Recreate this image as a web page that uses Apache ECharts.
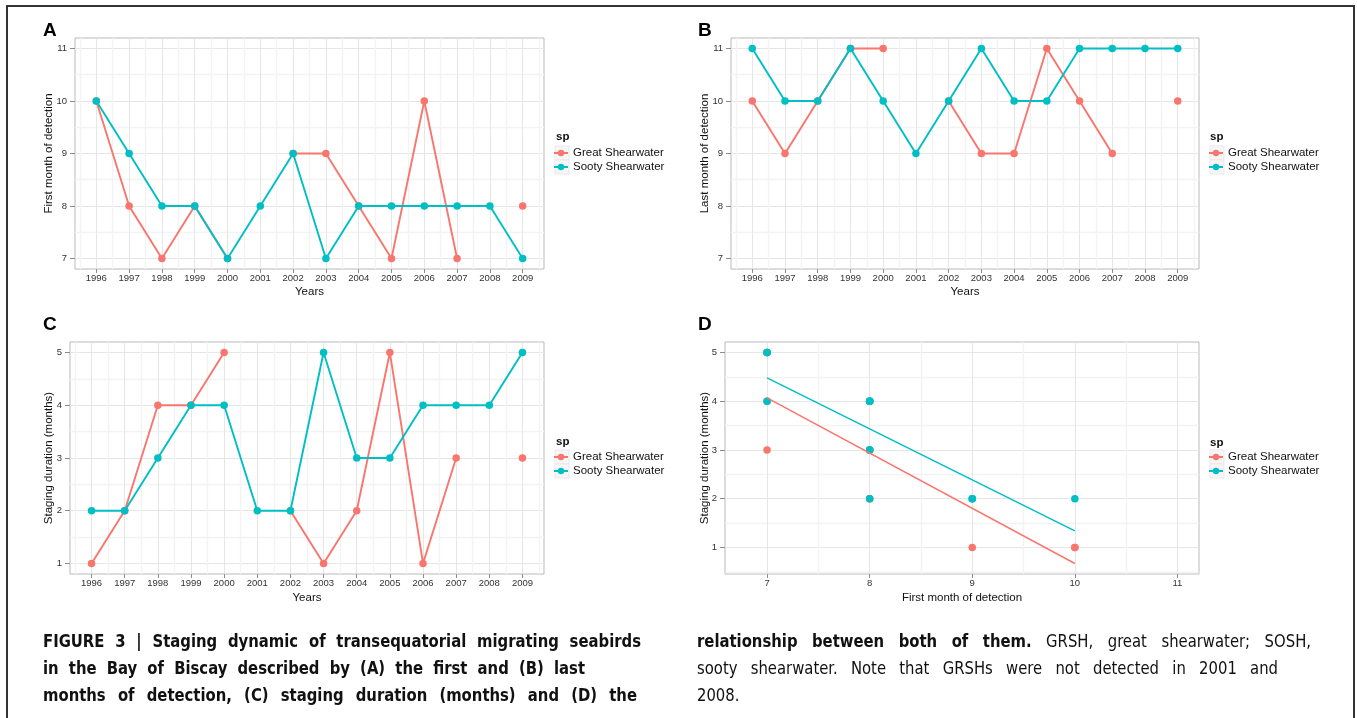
<!DOCTYPE html>
<html>
<head>
<meta charset="utf-8">
<script src="https://cdn.jsdelivr.net/npm/echarts@6/dist/echarts.min.js"></script>
<style>
html,body{margin:0;padding:0;background:#fff;}
#chart{width:1357px;height:718px;}
</style>
</head>
<body>
<div id="chart"></div>
<script>
// ---------------- DATA ----------------
const years = [1996,1997,1998,1999,2000,2001,2002,2003,2004,2005,2006,2007,2008,2009];
const yearTicks = [1996,1997,1998,1999,2000,2001,2002,2003,2004,2005,2006,2007,2008,2009];
const yearMinorTicks = [1995.5,1996.5,1997.5,1998.5,1999.5,2000.5,2001.5,2002.5,2003.5,2004.5,2005.5,2006.5,2007.5,2008.5,2009.5];
const monthTicks = [7,8,9,10,11];
const monthMinorTicks = [6.5,7.5,8.5,9.5,10.5,11.5];
const durationTicks = [1,2,3,4,5];
const durationMinorTicks = [0.5,1.5,2.5,3.5,4.5,5.5];
const seriesNames = ['Great Shearwater','Sooty Shearwater'];

// (A) first month of detection
const firstGRSH = [10,8,7,8,7,null,9,9,8,7,10,7,null,8];
const firstSOSH = [10,9,8,8,7,8,9,7,8,8,8,8,8,7];
// (B) last month of detection
const lastGRSH = [10,9,10,11,11,null,10,9,9,11,10,9,null,10];
const lastSOSH = [11,10,10,11,10,9,10,11,10,10,11,11,11,11];
// (C) staging duration (months)
const stayGRSH = [1,2,4,4,5,null,2,1,2,5,1,3,null,3];
const staySOSH = [2,2,3,4,4,2,2,5,3,3,4,4,4,5];
// (D) first month vs staging duration
const dGRSHx = [10,8,7,8,7,9,9,8,7,10,7,8];
const dGRSHy = [1,2,4,4,5,2,1,2,5,1,3,3];
const dSOSHx = [10,9,8,8,7,8,9,7,8,8,8,8,8,7];
const dSOSHy = [2,2,3,4,4,2,2,5,3,3,4,4,4,5];
// fitted regression lines (ends)
const fitX = [7,10];
const fitGRSH = [4.07,0.67];
const fitSOSH = [4.48,1.34];

// caption text
const captionLeft = [
  'FIGURE 3 | Staging dynamic of transequatorial migrating seabirds',
  'in the Bay of Biscay described by (A) the first and (B) last',
  'months of detection, (C) staging duration (months) and (D) the'
];
const captionRightBold = 'relationship between both of them.';
const captionRight = [
  'GRSH, great shearwater; SOSH,',
  'sooty shearwater. Note that GRSHs were not detected in 2001 and',
  '2008.'
];

// ---------------- STYLE / LAYOUT ----------------
const FF = '"Liberation Sans", Arial, Helvetica, sans-serif';
const RED = '#F8766D', TEAL = '#00BFC4';

const panels = [
  {grid:{left:75, top:38, width:469, height:231},
   x:{min:1995.35, max:2009.65, ticks:yearTicks, minor:yearMinorTicks, name:'Years', nameGap:17},
   y:{min:6.8, max:11.2, ticks:monthTicks, minor:monthMinorTicks, name:'First month of detection', nameGap:20},
   legend:{left:553, top:146}, sp:{x:556, y:137}, letter:{t:'A', x:43, y:31}},
  {grid:{left:731, top:38, width:468, height:231},
   x:{min:1995.35, max:2009.65, ticks:yearTicks, minor:yearMinorTicks, name:'Years', nameGap:17},
   y:{min:6.8, max:11.2, ticks:monthTicks, minor:monthMinorTicks, name:'Last month of detection', nameGap:20},
   legend:{left:1208, top:146}, sp:{x:1210, y:137}, letter:{t:'B', x:698, y:31}},
  {grid:{left:70, top:342, width:474, height:232},
   x:{min:1995.35, max:2009.65, ticks:yearTicks, minor:yearMinorTicks, name:'Years', nameGap:18},
   y:{min:0.8, max:5.2, ticks:durationTicks, minor:durationMinorTicks, name:'Staging duration (months)', nameGap:15},
   legend:{left:553, top:450}, sp:{x:556, y:442}, letter:{t:'C', x:43, y:325}},
  {grid:{left:725, top:342, width:474, height:232},
   x:{min:6.59, max:11.21, ticks:monthTicks, minor:monthMinorTicks, name:'First month of detection', nameGap:18},
   y:{min:0.455, max:5.216, ticks:durationTicks, minor:durationMinorTicks, name:'Staging duration (months)', nameGap:14},
   legend:{left:1208, top:450}, sp:{x:1210, y:443}, letter:{t:'D', x:698, y:325}}
];

function mainAxis(dim, a, gi){
  return {
    type:'value', gridIndex:gi, min:a.min, max:a.max,
    name:a.name, nameLocation:'middle', nameGap:a.nameGap, nameMoveOverlap:false,
    nameTextStyle:{fontSize:11.5, color:'#111', fontFamily:FF},
    axisLine:{show:false},
    axisTick:{show:true, length: dim==='x'?4:5, lineStyle:{color:'#8c8c8c', width:1}, customValues:a.ticks},
    axisLabel:{customValues:a.ticks, fontSize:9.5, color:'#333', margin: dim==='x'?4:8, fontFamily:FF,
               formatter: v => String(v)},
    splitLine:{show:true, lineStyle:{color:'#e6e6e6', width:1}},
    minorTick:{show:false}, minorSplitLine:{show:false}
  };
}
function minorAxis(dim, a, gi){
  return {
    type:'value', gridIndex:gi, min:a.min, max:a.max,
    axisLine:{show:false},
    axisTick:{show:false, customValues:a.minor},
    axisLabel:{show:false, customValues:a.minor},
    splitLine:{show:true, lineStyle:{color:'#f3f3f3', width:1.4}},
    minorTick:{show:false}, minorSplitLine:{show:false}
  };
}

const grids = [], xAxes = [], yAxes = [];
panels.forEach((p, i) => {
  grids.push(Object.assign({show:true, backgroundColor:'#fff', borderColor:'#b9b9b9', borderWidth:1,
    outerBoundsMode:'none', containLabel:false}, p.grid));
  xAxes.push(mainAxis('x', p.x, i)); xAxes.push(minorAxis('x', p.x, i));
  yAxes.push(mainAxis('y', p.y, i)); yAxes.push(minorAxis('y', p.y, i));
});

function lineSeries(name, color, ax, vals){
  return {
    type:'line', name:name, xAxisIndex:ax, yAxisIndex:ax,
    data: years.map((yr, i) => [yr, vals[i] == null ? '-' : vals[i]]),
    symbol:'circle', symbolSize:7.5, showSymbol:true, showAllSymbol:true, connectNulls:false,
    itemStyle:{color:color}, lineStyle:{color:color, width:1.9},
    emphasis:{disabled:true}, animation:false
  };
}
const series = [
  lineSeries(seriesNames[0], RED, 0, firstGRSH),
  lineSeries(seriesNames[1], TEAL, 0, firstSOSH),
  lineSeries(seriesNames[0], RED, 2, lastGRSH),
  lineSeries(seriesNames[1], TEAL, 2, lastSOSH),
  lineSeries(seriesNames[0], RED, 4, stayGRSH),
  lineSeries(seriesNames[1], TEAL, 4, staySOSH),
  {type:'scatter', name:seriesNames[0], xAxisIndex:6, yAxisIndex:6, symbol:'circle', symbolSize:7.5,
   data:dGRSHx.map((x,i)=>[x, dGRSHy[i]]), itemStyle:{color:RED, opacity:1}, emphasis:{disabled:true}},
  {type:'scatter', name:seriesNames[1], xAxisIndex:6, yAxisIndex:6, symbol:'circle', symbolSize:7.5,
   data:dSOSHx.map((x,i)=>[x, dSOSHy[i]]), itemStyle:{color:TEAL, opacity:1}, emphasis:{disabled:true}},
  {type:'line', name:seriesNames[0], xAxisIndex:6, yAxisIndex:6, symbol:'none', showSymbol:false,
   data:fitX.map((x,i)=>[x, fitGRSH[i]]), lineStyle:{color:RED, width:1.5}, itemStyle:{color:RED}, emphasis:{disabled:true}},
  {type:'line', name:seriesNames[1], xAxisIndex:6, yAxisIndex:6, symbol:'none', showSymbol:false,
   data:fitX.map((x,i)=>[x, fitSOSH[i]]), lineStyle:{color:TEAL, width:1.5}, itemStyle:{color:TEAL}, emphasis:{disabled:true}}
];

const legends = panels.map(p => ({
  orient:'vertical', left:p.legend.left, top:p.legend.top, padding:0,
  itemWidth:14, itemHeight:8, itemGap:0, selectedMode:false,
  data:seriesNames,
  textStyle:{fontSize:11.5, color:'#111', fontFamily:FF, lineHeight:14}
}));

// ---------------- GRAPHIC (frame, letters, legend titles, caption) ----------------
const elements = [];
elements.push({type:'rect', silent:true, z:0,
  shape:{x:7, y:6, width:1347, height:800},
  style:{fill:'none', stroke:'#333', lineWidth:2}});
panels.forEach(p => {
  elements.push({type:'text', silent:true, x:p.letter.x, y:p.letter.y,
    style:{text:p.letter.t, font:'bold 19px ' + FF, fill:'#000', verticalAlign:'middle', align:'left'}});
  elements.push({type:'text', silent:true, x:p.sp.x, y:p.sp.y,
    style:{text:'sp', font:'bold 11.5px ' + FF, fill:'#111', verticalAlign:'middle', align:'left'}});
  for (let k = 0; k < 2; k++) {
    elements.push({type:'rect', silent:true, z:-1,
      shape:{x:p.legend.left + 2, y:p.legend.top + k*14, width:14, height:14},
      style:{fill:'#f6f6f6', stroke:'#e9e9e9', lineWidth:1}});
  }
});

// caption with justified lines
const ctx = document.createElement('canvas').getContext('2d');
function hasFont(f){
  ctx.font = '20px monospace'; const w0 = ctx.measureText('abcdefghijklmnopqrsWMi').width;
  ctx.font = '20px "' + f + '", monospace'; const w1 = ctx.measureText('abcdefghijklmnopqrsWMi').width;
  return Math.abs(w0 - w1) > 0.5;
}
let capFam = 'Liberation Sans', capSX = 0.84;
if (hasFont('Liberation Sans Narrow')) { capFam = 'Liberation Sans Narrow'; capSX = 1.02; }
else if (hasFont('DejaVu Sans Condensed')) { capFam = 'DejaVu Sans Condensed'; capSX = 0.97; }
const CAP_SIZE = 17;
function capFont(b){ return (b ? 'bold ' : '') + CAP_SIZE + 'px "' + capFam + '"'; }

const capLines = [
  {x0:43, x1:641, y:643, just:true, runs:[{t:captionLeft[0], b:true}]},
  {x0:43, x1:585, y:670, just:true, runs:[{t:captionLeft[1], b:true}]},
  {x0:43, x1:637, y:697, just:true, runs:[{t:captionLeft[2], b:true}]},
  {x0:697, x1:1311, y:643, just:true, runs:[{t:captionRightBold, b:true}, {t:captionRight[0], b:false}]},
  {x0:697, x1:1278, y:670, just:true, runs:[{t:captionRight[1], b:false}]},
  {x0:697, x1:null, y:697, just:false, runs:[{t:captionRight[2], b:false}]}
];
capLines.forEach(L => {
  const words = [];
  L.runs.forEach(r => r.t.split(' ').forEach(w => { if (w) words.push({t:w, b:r.b}); }));
  words.forEach(w => { ctx.font = capFont(w.b); w.w = ctx.measureText(w.t).width * capSX; });
  const total = words.reduce((s, w) => s + w.w, 0);
  ctx.font = capFont(false);
  let gap = ctx.measureText(' ').width * capSX;
  if (L.just && words.length > 1) gap = Math.max(2, (L.x1 - L.x0 - total) / (words.length - 1));
  let x = L.x0;
  words.forEach(w => {
    elements.push({type:'text', silent:true, x:x, y:L.y, scaleX:capSX, scaleY:1,
      style:{text:w.t, font:capFont(w.b), fill:'#111', verticalAlign:'middle', align:'left'}});
    x += w.w + gap;
  });
});

const chart = echarts.init(document.getElementById('chart'), null, {renderer:'canvas'});
chart.setOption({
  animation:false,
  backgroundColor:'#fff',
  textStyle:{fontFamily:FF},
  grid:grids, xAxis:xAxes, yAxis:yAxes,
  legend:legends,
  series:series,
  graphic:{elements:elements}
});
</script>
</body>
</html>
